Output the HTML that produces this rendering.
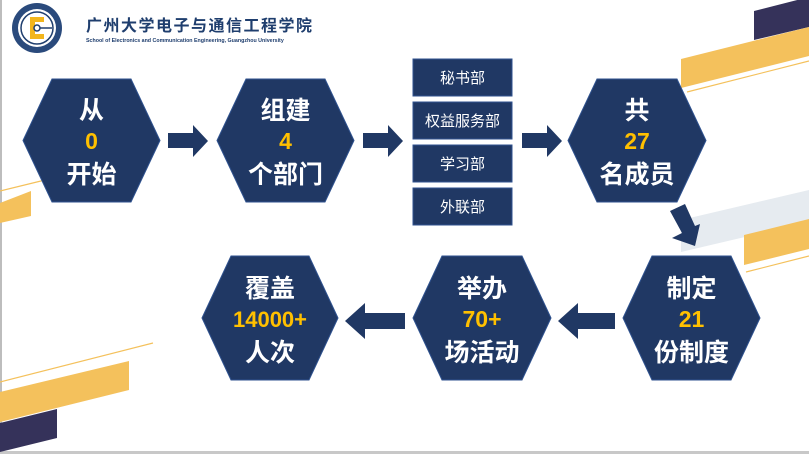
<!DOCTYPE html>
<html><head><meta charset="utf-8"><style>
html,body{margin:0;padding:0;background:#fff;}
svg{display:block;}
text{font-family:"Liberation Sans","Noto Sans CJK SC",sans-serif;}
</style></head><body>
<svg width="809" height="454" viewBox="0 0 809 454" xmlns="http://www.w3.org/2000/svg">
<rect width="809" height="454" fill="#fff"/>
<rect x="0" y="0" width="2" height="454" fill="#bdbdbd"/>
<rect x="0" y="451" width="809" height="3" fill="#c8c8c8"/>
<polygon points="754,11 809,-3 809,27 754,40" fill="#35325a"/>
<polygon points="681,59 809,27 809,56 681,88" fill="#f4c15c"/>
<line x1="687" y1="92" x2="809" y2="61" stroke="#f4c15c" stroke-width="1.2"/>
<polygon points="681,220 809,190 809,222 681,252" fill="#e6ebf0"/>
<polygon points="744,235 809,219 809,249 744,265" fill="#f4c15c"/>
<line x1="746" y1="272" x2="809" y2="256" stroke="#f4c15c" stroke-width="1.2"/>
<line x1="0" y1="191" x2="45" y2="180" stroke="#f4c15c" stroke-width="1.2"/>
<polygon points="0,203 31,191 31,216 0,223" fill="#f4c15c"/>
<line x1="0" y1="382" x2="153" y2="343" stroke="#f4c15c" stroke-width="1.2"/>
<polygon points="0,392 129,361 129,390 0,422" fill="#f4c15c"/>
<polygon points="0,423 57,409 57,438 0,452" fill="#35325a"/>
<circle cx="37" cy="28" r="25" fill="#2a4a7c"/>
<circle cx="37" cy="28" r="19" fill="#fff"/>
<circle cx="37" cy="28" r="16" fill="none" stroke="#1f3e6e" stroke-width="1.5"/>
<rect x="30" y="17" width="14" height="22" fill="#f2b51c"/>
<rect x="35" y="22" width="9" height="12" fill="#fff"/>
<circle cx="37" cy="28" r="3" fill="#fff" stroke="#1f3e6e" stroke-width="1.5"/>
<line x1="40" y1="28" x2="52" y2="28" stroke="#1f3e6e" stroke-width="1.5"/>
<text x="86" y="31" font-size="16" font-weight="bold" fill="#1f3e6e" font-family="'Noto Serif CJK SC',serif" letter-spacing="1.5">广州大学电子与通信工程学院</text>
<text x="86" y="42" font-size="5.3" font-weight="bold" fill="#1f3e6e">School of Electronics and Communication Engineering, Guangzhou University</text>
<g fill="#203864" stroke="#2f528f" stroke-width="1">
<polygon points="23,140.5 52,79 131,79 160,140.5 131,202 52,202"/>
<polygon points="217,140.5 246,79 325,79 354,140.5 325,202 246,202"/>
<polygon points="568,140.5 597,79 677,79 706,140.5 677,202 597,202"/>
<polygon points="202,318 231,256 309,256 338,318 309,380 231,380"/>
<polygon points="413,318 442,256 522,256 551,318 522,380 442,380"/>
<polygon points="623,318 652,256 731,256 760,318 731,380 652,380"/>
</g>
<g fill="#203864" stroke="#2f528f" stroke-width="1">
<rect x="413" y="59" width="99" height="37"/>
<rect x="413" y="102" width="99" height="37"/>
<rect x="413" y="145" width="99" height="37"/>
<rect x="413" y="188" width="99" height="37"/>
</g>
<g fill="#fff" font-size="15" text-anchor="middle">
<text x="462.5" y="83">秘书部</text>
<text x="462.5" y="126">权益服务部</text>
<text x="462.5" y="169">学习部</text>
<text x="462.5" y="212">外联部</text>
</g>
<g fill="#203864">
<polygon points="168,133 193,133 193,125 208,141 193,157 193,148 168,148"/>
<polygon points="363,133 388,133 388,125 403,141 388,157 388,148 363,148"/>
<polygon points="522,133 547,133 547,125 562,141 547,157 547,148 522,148"/>
<polygon points="405,313 365,313 365,303 345,321 365,339 365,329 405,329"/>
<polygon points="615,313 578,313 578,303 558,321 578,339 578,329 615,329"/>
<polygon points="670,211 685,204 695,226 700,224 695,246 672,238 682,233"/>
</g>
<g font-size="25" font-weight="bold" text-anchor="middle" fill="#fff">
<text x="91.5" y="119">从</text>
<text x="91.5" y="149" fill="#ffc000" font-size="23">0</text>
<text x="91.5" y="183">开始</text>
<text x="285.5" y="119">组建</text>
<text x="285.5" y="149" fill="#ffc000" font-size="23">4</text>
<text x="285.5" y="183">个部门</text>
<text x="637" y="119">共</text>
<text x="637" y="149" fill="#ffc000" font-size="23">27</text>
<text x="637" y="183">名成员</text>
<text x="270" y="297">覆盖</text>
<text x="270" y="327" fill="#ffc000" font-size="22">14000+</text>
<text x="270" y="361">人次</text>
<text x="482" y="297">举办</text>
<text x="482" y="327" fill="#ffc000" font-size="23">70+</text>
<text x="482" y="361">场活动</text>
<text x="691.5" y="297">制定</text>
<text x="691.5" y="327" fill="#ffc000" font-size="23">21</text>
<text x="691.5" y="361">份制度</text>
</g>
</svg>
</body></html>
